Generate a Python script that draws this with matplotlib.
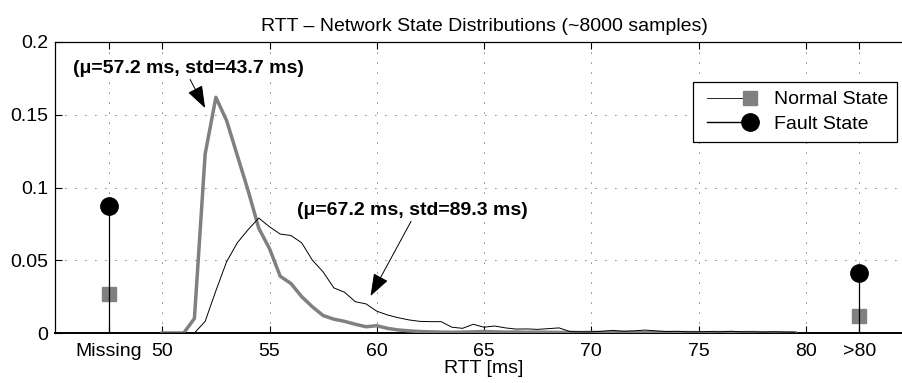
import matplotlib
matplotlib.use("Agg")
import matplotlib.pyplot as plt
from matplotlib.lines import Line2D
from matplotlib.legend_handler import HandlerBase

plt.rcParams['font.family'] = ['Liberation Sans', 'DejaVu Sans']

# ---- data ----
rtt_ms = [50.0, 50.5, 51.0, 51.5, 52.0, 52.5, 53.0, 53.5, 54.0, 54.5,
          55.0, 55.5, 56.0, 56.5, 57.0, 57.5, 58.0, 58.5, 59.0, 59.5,
          60.0, 60.5, 61.0, 61.5, 62.0, 62.5, 63.0, 63.5, 64.0, 64.5,
          65.0, 65.5, 66.0, 66.5, 67.0, 67.5, 68.0, 68.5, 69.0, 69.5,
          70.0, 70.5, 71.0, 71.5, 72.0, 72.5, 73.0, 73.5, 74.0, 74.5,
          75.0, 75.5, 76.0, 76.5, 77.0, 77.5, 78.0, 78.5, 79.0, 79.5]

normal_dist = [0, 0, 0, 0.010, 0.123, 0.162, 0.146, 0.122, 0.098, 0.072,
               0.058, 0.039, 0.034, 0.025, 0.018, 0.012, 0.0095, 0.008, 0.006, 0.0043,
               0.005, 0.0032, 0.0021, 0.0015, 0.0010, 0.0008, 0.0006, 0.0005,
               0.0006, 0.0008, 0.0010, 0.0008, 0.0006, 0.0007, 0.0005, 0.0006, 0.0005, 0.0004,
               0.0004, 0.0003, 0.0004, 0.0003, 0.0003, 0.0004, 0.0003, 0.0002, 0.0003, 0.0003,
               0.0002, 0.0003, 0.0002, 0.0002, 0.0003, 0.0002, 0.0002, 0.0003, 0.0002, 0.0002,
               0.0002, 0.0001]

fault_dist = [0, 0, 0, 0, 0.008, 0.029, 0.049, 0.062, 0.071, 0.079,
              0.073, 0.068, 0.067, 0.062, 0.050, 0.042, 0.031, 0.028, 0.0215, 0.020,
              0.015, 0.0124, 0.0105, 0.009, 0.008, 0.0078, 0.0078, 0.004,
              0.0032, 0.006, 0.004, 0.0048, 0.0035, 0.0027, 0.0028, 0.0025, 0.003, 0.0035,
              0.001, 0.0008, 0.0008, 0.0012, 0.0018, 0.0012, 0.0015, 0.002, 0.0015, 0.001,
              0.0012, 0.0008, 0.0008, 0.001, 0.0008, 0.0012, 0.0008, 0.0008, 0.0006, 0.0008,
              0.0006, 0.0005]

special_x = [47.5, 82.5]           # "Missing" and ">80" positions
normal_special = [0.027, 0.0117]
fault_special = [0.087, 0.0415]

xtick_pos = [47.5, 50, 55, 60, 65, 70, 75, 80, 82.5]
xtick_labels = ['Missing', '50', '55', '60', '65', '70', '75', '80', '>80']
ytick_pos = [0, 0.05, 0.1, 0.15, 0.2]
ytick_labels = ['0', '0.05', '0.1', '0.15', '0.2']

GRAY = '#808080'
FS = 14

fig = plt.figure(figsize=(9.03, 3.83), dpi=100)
ax = fig.add_axes([55/903, 1-333/383, 858/903, 291/383])

# grid
ax.set_xticks(xtick_pos)
ax.set_xticklabels(xtick_labels)
ax.set_yticks(ytick_pos)
ax.set_yticklabels(ytick_labels)
ax.grid(True, color='k', linestyle=(0, (1, 11)), linewidth=0.6)
ax.set_axisbelow(True)

# distributions
ax.plot(rtt_ms, normal_dist, color=GRAY, lw=2.5, zorder=3)
ax.plot(rtt_ms, fault_dist, color='k', lw=0.7, zorder=4)

# stems for Missing / >80
for xs, fv, nv in zip(special_x, fault_special, normal_special):
    ax.plot(xs, nv, marker='s', ms=10, color=GRAY, mec=GRAY, ls='none', zorder=4)
    ax.plot([xs, xs], [0, fv], color='k', lw=0.9, zorder=5)
    ax.plot(xs, fv, marker='o', ms=12.5, color='k', ls='none', zorder=6)

ax.set_xlim(45, 85)
ax.set_ylim(0, 0.2)

ax.tick_params(axis='x', direction='in', length=5, width=0.8, top=True,
               labelsize=FS, pad=7)
ax.tick_params(axis='y', direction='in', length=5, width=0.8, right=False,
               labelsize=FS, pad=5)
for s in ax.spines.values():
    s.set_linewidth(0.9)
ax.spines['bottom'].set_linewidth(1.4)
ax.spines['right'].set_visible(False)

ax.set_title('RTT \u2013 Network State Distributions (~8000 samples)',
             fontsize=FS, pad=8)
ax.set_xlabel('RTT [ms]', fontsize=FS, labelpad=0.5)

# annotations
ap = dict(arrowstyle='-|>,head_length=1.0,head_width=0.36', color='k', lw=0.7,
          mutation_scale=14, shrinkA=0, shrinkB=0)
ax.annotate('(\u03bc=57.2 ms, std=43.7 ms)', xy=(52.0, 0.1546), xytext=(51.23, 0.182),
            ha='center', va='center', fontsize=FS, fontweight='bold',
            arrowprops=dict(ap, relpos=(0.5, 0.0)))
ax.annotate('(\u03bc=67.2 ms, std=89.3 ms)', xy=(59.71, 0.0254), xytext=(61.67, 0.0845),
            ha='center', va='center', fontsize=FS, fontweight='bold',
            arrowprops=dict(ap, relpos=(0.5, 0.0)))


class LineEndMarker(HandlerBase):
    def create_artists(self, legend, orig, xdescent, ydescent, width, height,
                       fontsize, trans):
        y = height / 2 - ydescent
        x0 = -xdescent + 0.11 * width
        line = Line2D([x0, width - xdescent], [y, y], color='k',
                      lw=orig.get_linewidth(), transform=trans)
        mk = Line2D([width - xdescent], [y], marker=orig.get_marker(),
                    ms=orig.get_markersize(), mfc=orig.get_markerfacecolor(),
                    mec=orig.get_markeredgecolor(), ls='none', transform=trans)
        return [line, mk]


h_normal = Line2D([], [], color='k', lw=0.6, marker='s', ms=10, mfc=GRAY, mec=GRAY)
h_fault = Line2D([], [], color='k', lw=1.0, marker='o', ms=12.5, mfc='k', mec='k')
leg = ax.legend([h_normal, h_fault], ['Normal State', 'Fault State'],
                handler_map={Line2D: LineEndMarker()},
                loc='upper right', bbox_to_anchor=(0.9813, 0.8625), borderaxespad=0,
                fontsize=FS, fancybox=False, framealpha=1, edgecolor='k',
                handlelength=2.45, handletextpad=1.25, labelspacing=0.35,
                borderpad=0.45)
leg.get_frame().set_linewidth(0.9)

fig.savefig('out.png', dpi=100)
